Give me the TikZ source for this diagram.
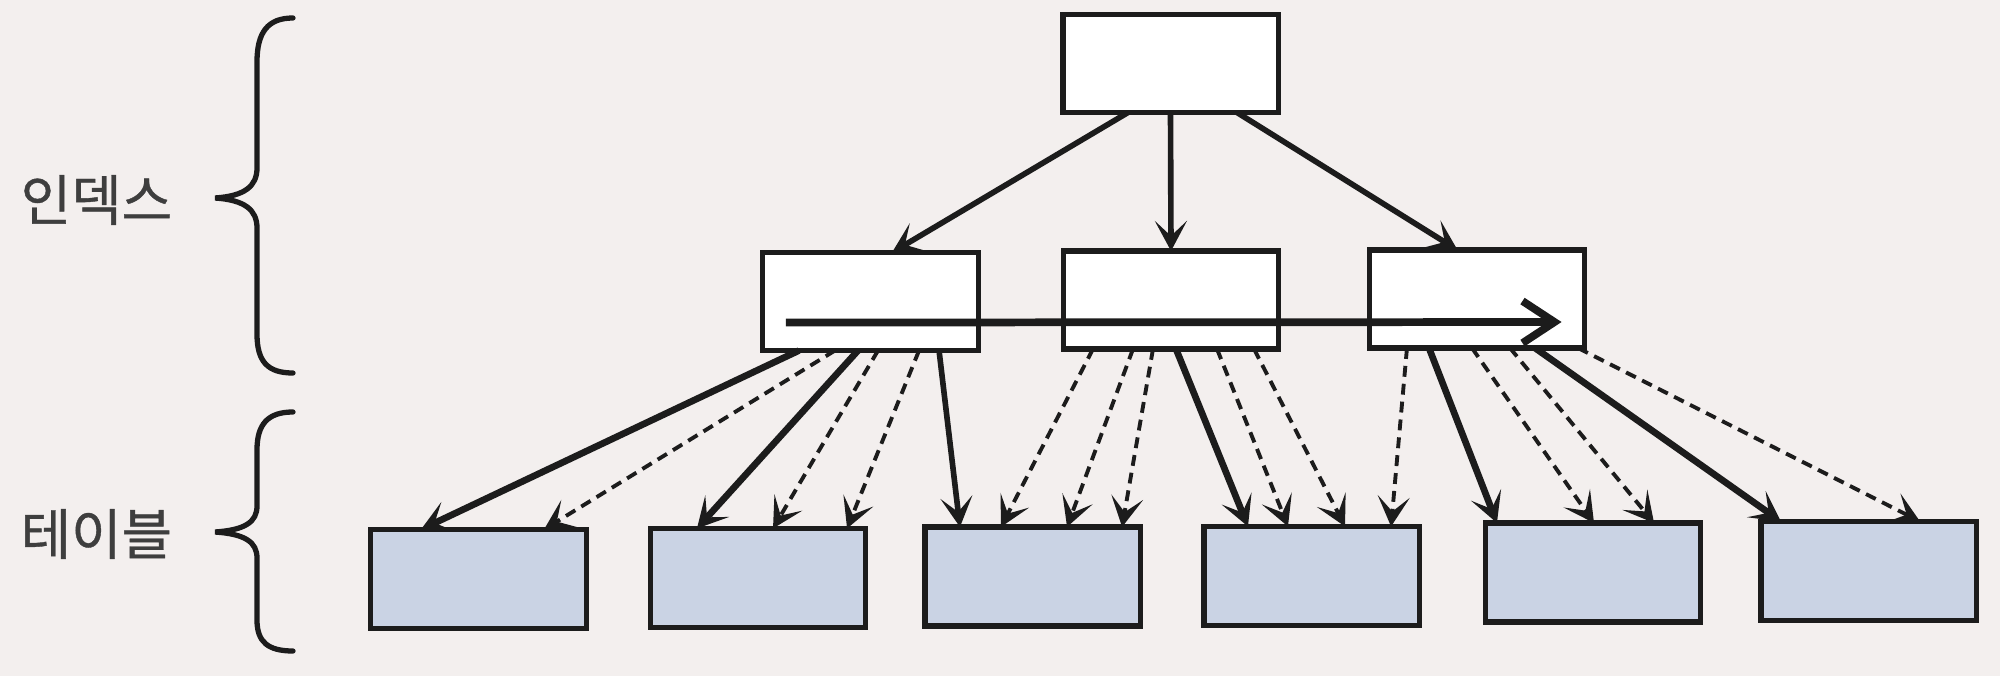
\documentclass[tikz,border=0pt]{standalone}
\usepackage{fontspec}
\newfontfamily\krfont[FakeBold=0.7]{Noto Sans CJK KR}
\usetikzlibrary{arrows.meta,calc}
\definecolor{bg}{RGB}{243,239,238}
\definecolor{tbl}{RGB}{202,211,228}
\definecolor{ink}{RGB}{28,28,28}
\begin{document}
\begin{tikzpicture}[x=0.01cm,y=-0.01cm,
  >={Stealth[length=0.3cm,width=0.32cm,inset=0.15cm]},
  idxbox/.style={draw=ink, line width=1.45pt, fill=white, inner sep=0pt, outer sep=0pt, minimum width=2.15cm, minimum height=0.98cm},
  tblbox/.style={draw=ink, line width=1.45pt, fill=tbl, inner sep=0pt, outer sep=0pt, minimum width=2.15cm, minimum height=0.99cm},
  solidarr/.style={->, line width=1.6pt, draw=ink},
  boldarr/.style={->, line width=1.9pt, draw=ink},
  dasharr/.style={->, line width=1.1pt, draw=ink, dash pattern=on 3.1pt off 2pt},
  scanarr/.style={-{Straight Barb[length=0.32cm,width=0.42cm]}, line width=2.2pt, draw=ink},
  bracepath/.style={line width=1.5pt, draw=ink, line cap=round},
  lbl/.style={font=\krfont\fontsize{15.6pt}{17pt}\selectfont, text=ink!85, anchor=west, inner sep=0pt}]
\fill[bg] (0,0) rectangle (2000,676);
\useasboundingbox (0,0) rectangle (2000,676);
% index nodes
\node[idxbox] (T) at (1170.5,63.5) {};
\node[idxbox] (L) at (870.5,301.5) {};
\node[idxbox] (M) at (1171,300) {};
\node[idxbox] (R) at (1477,299) {};
% table nodes
\node[tblbox] (B1) at (478.5,579) {};
\node[tblbox] (B2) at (758,578) {};
\node[tblbox] (B3) at (1032.5,576.5) {};
\node[tblbox] (B4) at (1311.5,576) {};
\node[tblbox] (B5) at (1593,572.5) {};
\node[tblbox] (B6) at (1868.5,571) {};
% top level connectors
\draw[solidarr] ([xshift=0.65cm]T.south west) -- ([xshift=1.29cm]L.north west);
\draw[solidarr] (T.south) -- (M.north);
\draw[solidarr] ([xshift=1.74cm]T.south west) -- ([xshift=0.88cm]R.north west);
% leaf scan arrow
\draw[scanarr] ([shift={(23,-28)}]L.south west) -- ([shift={(-23,-26)}]R.south east);
% from L
\draw[boldarr] ([xshift=0.36cm]L.south west) -- ([xshift=0.50cm]B1.north west);
\draw[dasharr] ([xshift=0.72cm]L.south west) -- ([xshift=1.73cm]B1.north west);
\draw[boldarr] ([xshift=0.95cm]L.south west) -- ([xshift=0.465cm]B2.north west);
\draw[dasharr] ([xshift=1.15cm]L.south west) -- ([xshift=1.225cm]B2.north west);
\draw[dasharr] ([xshift=1.56cm]L.south west) -- ([xshift=1.965cm]B2.north west);
\draw[solidarr] ([xshift=1.76cm]L.south west) -- ([xshift=0.35cm]B3.north west);
% from M
\draw[dasharr] ([xshift=0.295cm]M.south west) -- ([xshift=0.76cm]B3.north west);
\draw[dasharr] ([xshift=0.695cm]M.south west) -- ([xshift=1.42cm]B3.north west);
\draw[dasharr] ([xshift=0.895cm]M.south west) -- ([xshift=1.97cm]B3.north west);
\draw[boldarr] ([xshift=1.125cm]M.south west) -- ([xshift=0.44cm]B4.north west);
\draw[dasharr] ([xshift=1.535cm]M.south west) -- ([xshift=0.84cm]B4.north west);
\draw[dasharr] ([xshift=1.905cm]M.south west) -- ([xshift=1.41cm]B4.north west);
% from R
\draw[dasharr] ([xshift=0.375cm]R.south west) -- ([xshift=1.87cm]B4.north west);
\draw[boldarr] ([xshift=0.595cm]R.south west) -- ([xshift=0.115cm]B5.north west);
\draw[dasharr] ([xshift=1.025cm]R.south west) -- ([xshift=1.085cm]B5.north west);
\draw[dasharr] ([xshift=1.405cm]R.south west) -- ([xshift=1.685cm]B5.north west);
\draw[boldarr] ([xshift=1.655cm]R.south west) -- ([xshift=0.20cm]B6.north west);
\draw[dasharr] ([xshift=2.085cm]R.south west) -- ([xshift=1.59cm]B6.north west);
% braces
\draw[bracepath] (293,18) .. controls (268,18) and (257,32) .. (257,62) -- (257,168)
  .. controls (257,186) and (245,196) .. (215,198)
  .. controls (245,200) and (257,210) .. (257,228) -- (257,334)
  .. controls (257,362) and (268,373) .. (293,373);
\draw[bracepath] (293,412) .. controls (268,412) and (257,424) .. (257,450) -- (257,506)
  .. controls (257,522) and (245,530) .. (215,532)
  .. controls (245,534) and (257,542) .. (257,558) -- (257,620)
  .. controls (257,642) and (268,651) .. (293,651);
% labels
\node[lbl] (lidx) at (20,200) {인덱스};
\node[lbl] (ltbl) at (20,534) {테이블};
\end{tikzpicture}
\end{document}
